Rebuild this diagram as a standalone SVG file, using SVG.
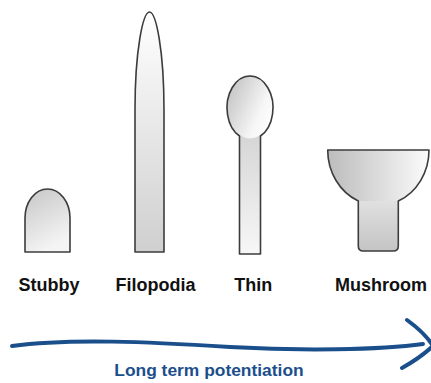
<svg xmlns="http://www.w3.org/2000/svg" width="431" height="383" viewBox="0 0 431 383">
  <style>
    .outline { fill: none; stroke: #3c3c3c; stroke-width: 1.6; stroke-linejoin: round; }
    .label { font-family: "Liberation Sans", Arial, sans-serif; font-weight: bold; font-size: 18px; fill: #111; }
    .ltp { font-family: "Liberation Sans", Arial, sans-serif; font-weight: bold; font-size: 17.4px; fill: #1b4f8c; }
    .arrow { fill: none; stroke: #1b4f8c; stroke-width: 4; stroke-linecap: round; stroke-linejoin: round; }
  </style>
  <defs>
    <linearGradient id="gStubby" x1="0" y1="0" x2="0.4" y2="1">
      <stop offset="0" stop-color="#c6c6c6"/>
      <stop offset="1" stop-color="#f4f4f4"/>
    </linearGradient>
    <linearGradient id="gFilo" x1="0" y1="0" x2="0" y2="1">
      <stop offset="0" stop-color="#ffffff"/>
      <stop offset="1" stop-color="#cfcfcf"/>
    </linearGradient>
    <linearGradient id="gThinHead" x1="0" y1="0.2" x2="1" y2="0.8">
      <stop offset="0" stop-color="#c2c2c2"/>
      <stop offset="0.7" stop-color="#f6f6f6"/>
      <stop offset="1" stop-color="#ffffff"/>
    </linearGradient>
    <linearGradient id="gThinNeck" x1="0" y1="0" x2="0" y2="1">
      <stop offset="0" stop-color="#d4d4d4"/>
      <stop offset="1" stop-color="#f7f7f7"/>
    </linearGradient>
    <linearGradient id="gMushHead" x1="0" y1="0" x2="1" y2="0">
      <stop offset="0" stop-color="#bcbcbc"/>
      <stop offset="1" stop-color="#fbfbfb"/>
    </linearGradient>
    <linearGradient id="gMushNeck" x1="0" y1="0" x2="0" y2="1">
      <stop offset="0" stop-color="#e2e2e2"/>
      <stop offset="1" stop-color="#c4c4c4"/>
    </linearGradient>
  </defs>

  <g id="stubby">
    <path d="M25,252 V218 A22.5,29 0 0 1 70,218 V252 Z" fill="url(#gStubby)"/>
    <path class="outline" d="M25,252 V218 A22.5,29 0 0 1 70,218 V252 Z"/>
    <text class="label" x="18.5" y="291">Stubby</text>
  </g>

  <g id="filopodia">
    <path d="M135,252 L135,110 C135,50 143,12 149.5,12 C156,12 164,50 164,110 L164,252 Z" fill="url(#gFilo)"/>
    <path class="outline" d="M135,252 L135,110 C135,50 143,12 149.5,12 C156,12 164,50 164,110 L164,252 Z"/>
    <text class="label" x="115.5" y="291">Filopodia</text>
  </g>

  <g id="thin">
    <rect x="239.5" y="130" width="21" height="124" fill="url(#gThinNeck)"/>
    <ellipse cx="250" cy="106.75" rx="23" ry="31.75" fill="url(#gThinHead)"/>
    <path class="outline" d="M239.5,254 V136 A23,31.75 0 1 1 260.5,136 V254 Z"/>
    <text class="label" x="234.3" y="291">Thin</text>
  </g>

  <g id="mushroom">
    <path d="M358.3,198 V246 Q358.3,251 363.3,251 H393.3 Q398.3,251 398.3,246 V198 Z" fill="url(#gMushNeck)"/>
    <path d="M327.7,150 H429 A50.7,55.5 0 0 1 398.3,201 H358.3 A50.7,55.5 0 0 1 327.7,150 Z" fill="url(#gMushHead)"/>
    <path class="outline" d="M327.7,150 H429 A50.7,55.5 0 0 1 398.3,201 V246 Q398.3,251 393.3,251 H363.3 Q358.3,251 358.3,246 V201 A50.7,55.5 0 0 1 327.7,150 Z"/>
    <text class="label" x="335" y="291">Mushroom</text>
  </g>

  <g id="connectors">
    <path class="arrow" d="M12,346 C70,338 150,342 230,347 C300,351 380,350 423,344"/>
    <path class="arrow" d="M407,320 Q425,333 433,346 Q420,358 402,368"/>
  </g>

  <text class="ltp" x="114.3" y="376">Long term potentiation</text>
</svg>
